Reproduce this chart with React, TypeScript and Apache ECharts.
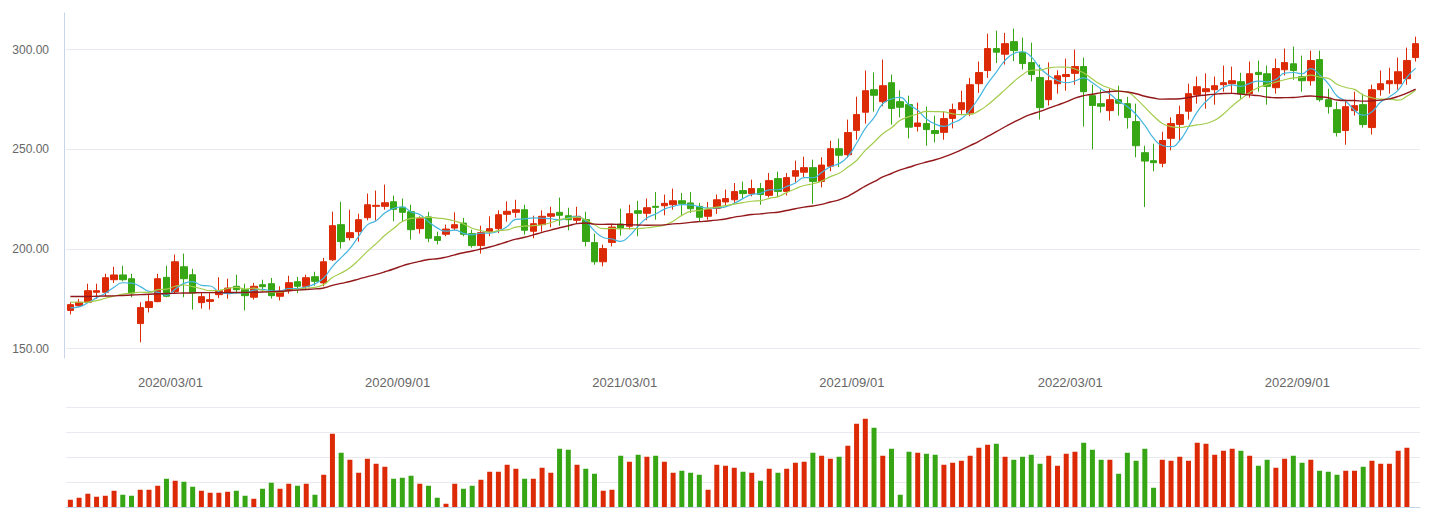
import React, { useEffect, useRef } from "react";
import * as echarts from "echarts";

// ---- data (weekly candles) ----
const FIRST_WEEK = "2019-12-13";
const CLOSED_WEEKS = ["2020-01-31", "2022-02-04", "2022-10-07"];
const tickLabels = ["2020/03/01", "2020/09/01", "2021/03/01", "2021/09/01", "2022/03/01", "2022/09/01"];

const opens = [169.2,171.6,173.3,178.3,178.3,184.6,187.0,185.1,162.6,170.7,173.6,185.8,178.6,191.1,187.1,173.1,173.7,177.1,177.9,181.3,179.6,175.8,182.1,182.6,176.3,179.1,183.6,181.3,186.1,183.0,194.6,212.2,205.7,208.7,215.7,221.4,221.4,223.7,220.9,218.7,210.2,216.1,206.2,207.4,210.5,213.0,207.7,201.7,208.7,210.2,217.4,218.4,219.7,208.9,212.2,216.4,218.4,216.7,214.4,214.7,203.2,193.6,203.3,212.5,211.4,219.2,217.9,221.4,221.7,222.2,224.2,223.1,221.4,216.4,220.4,223.6,224.7,229.3,227.8,230.3,226.9,235.3,228.9,236.5,238.5,240.8,233.9,241.5,250.3,247.3,259.5,268.6,279.9,273.9,283.4,273.9,272.4,261.5,262.9,259.4,258.5,265.5,269.9,268.2,282.9,289.5,300.5,297.7,304.0,298.7,293.5,286.0,274.9,282.9,286.5,288.1,291.5,276.9,272.9,269.4,274.9,272.9,263.9,248.3,244.3,243.0,255.5,262.5,269.1,277.4,278.9,279.9,282.4,282.9,283.9,277.9,288.6,287.9,280.9,289.9,292.9,286.4,284.4,295.0,274.9,269.9,259.4,269.4,272.4,260.9,279.9,282.9,282.9,285.4,296.0];
const closes = [172.1,173.3,179.1,179.1,185.6,187.0,184.6,177.9,170.6,173.6,185.1,176.3,193.6,185.1,177.9,176.1,174.6,179.1,180.4,179.6,176.6,181.3,181.1,176.6,178.8,183.1,181.3,185.6,183.8,193.6,211.7,203.7,208.2,214.7,222.2,221.9,223.2,219.9,218.4,209.7,215.2,205.4,204.3,210.0,212.2,207.4,201.7,208.2,210.2,217.2,218.9,219.7,209.4,212.7,216.4,217.7,216.9,214.7,216.4,203.8,193.6,200.2,211.0,210.5,217.7,217.9,220.7,220.9,222.9,224.2,222.7,220.2,215.9,219.7,224.7,225.3,228.8,227.8,230.3,227.3,234.3,228.9,235.8,239.3,240.8,233.9,242.1,250.3,247.0,258.4,267.4,279.4,277.1,281.9,270.5,271.1,261.1,263.2,259.9,257.9,265.4,269.9,273.4,282.4,288.5,300.5,298.7,303.0,299.5,293.0,287.5,270.9,284.4,286.9,287.5,291.5,278.9,272.0,271.6,274.9,273.1,265.9,251.8,244.1,243.3,254.4,262.9,267.4,277.9,281.4,280.4,281.9,283.4,284.4,277.9,287.9,287.5,281.6,290.5,293.5,289.5,284.4,294.5,274.9,271.4,258.4,271.4,271.9,262.4,279.9,282.9,284.4,288.9,294.5,303.0];
const lows = [167.2,170.9,172.9,174.9,176.3,183.0,183.8,175.8,153.2,168.2,173.3,175.8,177.9,175.8,169.6,170.1,169.6,175.4,175.1,177.6,169.2,174.6,178.8,175.1,174.2,177.6,177.9,180.0,181.6,181.3,194.0,200.2,204.3,203.7,214.4,214.2,219.7,213.9,213.9,204.7,207.7,203.4,202.3,206.4,209.4,206.4,200.7,197.7,206.4,208.0,213.7,215.7,207.2,205.4,208.7,210.9,211.7,209.4,213.0,201.3,192.1,191.3,201.3,206.7,209.7,206.4,214.4,214.7,216.9,219.7,216.9,218.1,213.9,214.7,217.6,221.4,222.7,225.3,226.4,222.2,225.9,225.9,226.9,233.4,236.1,222.7,230.9,239.0,241.1,245.7,254.8,262.9,268.9,271.6,262.4,266.0,255.5,258.9,251.8,253.5,254.8,260.5,267.1,266.6,278.3,285.8,293.3,292.5,294.2,290.0,284.1,264.9,271.9,277.9,279.4,282.4,261.4,250.0,268.4,264.4,266.9,260.4,246.0,221.1,239.0,241.0,249.5,254.4,264.9,272.9,270.4,272.4,278.9,277.9,275.4,275.9,278.9,272.4,277.9,287.0,284.9,278.9,281.9,273.9,267.9,256.4,252.3,266.9,260.9,257.4,276.9,277.9,279.9,282.4,294.0];
const highs = [173.3,174.9,182.6,182.6,187.6,191.1,191.6,187.6,173.3,177.4,187.6,191.6,197.2,197.7,190.1,177.9,177.9,185.8,185.1,187.1,182.6,183.0,184.6,185.5,181.3,186.6,186.0,187.1,188.6,195.5,218.7,223.7,219.7,217.7,227.8,229.3,232.3,226.8,225.3,222.2,216.4,218.7,208.7,212.2,218.4,215.6,209.7,211.7,216.4,219.4,223.9,224.7,222.2,216.7,219.4,221.2,225.8,220.7,221.2,218.7,207.7,202.2,212.7,220.2,222.2,224.2,225.3,228.6,227.3,230.3,228.1,228.6,223.1,223.6,227.3,229.8,233.1,233.8,234.8,233.1,238.1,238.8,238.1,244.3,246.3,244.8,246.0,254.3,255.4,264.9,276.4,289.5,288.6,295.0,287.5,279.6,276.9,273.4,271.4,266.9,269.0,272.9,279.4,285.8,294.0,308.0,309.5,308.4,310.5,306.0,303.5,292.5,293.6,289.6,295.5,300.0,296.0,282.4,279.9,280.4,281.9,276.3,272.9,251.8,252.8,258.8,266.0,271.9,282.9,286.5,288.1,286.5,292.0,291.5,288.4,294.0,294.5,292.0,295.5,300.5,301.5,297.0,299.5,299.5,280.4,273.9,274.9,278.9,277.9,282.4,289.5,290.9,296.0,301.0,306.5];

const ma5 = [170.5,171.0,173.0,175.5,177.84,180.82,183.08,182.84,181.14,178.74,178.36,176.70,179.84,182.74,183.60,181.80,181.46,178.56,177.62,177.96,178.06,179.40,179.80,179.04,178.88,180.18,180.18,181.08,182.52,185.48,191.20,195.68,200.20,206.38,212.10,214.14,218.04,220.38,221.12,218.62,217.28,213.72,210.60,208.92,209.42,207.86,207.12,207.90,207.94,208.94,211.24,214.84,215.08,215.58,215.42,215.18,214.62,215.68,216.42,213.90,209.08,205.74,205.00,203.82,206.60,211.46,215.56,217.54,220.02,221.32,222.28,222.18,221.18,220.54,220.64,221.16,222.88,225.26,227.38,227.90,229.70,229.72,231.32,233.12,235.82,235.74,238.38,241.28,242.82,246.34,253.04,260.50,265.86,272.84,275.26,276.00,272.34,269.56,265.16,262.64,261.50,263.26,265.30,269.80,275.92,282.94,288.70,294.62,298.04,298.94,296.34,290.78,287.06,284.54,283.44,284.24,285.84,283.36,280.30,277.78,274.10,271.50,267.46,261.96,255.64,251.90,251.30,254.42,261.18,268.80,274.00,277.80,281.00,282.30,281.60,283.10,284.22,283.86,285.08,288.20,288.52,287.90,290.48,287.36,282.94,276.72,274.12,269.60,267.10,268.80,273.70,276.30,279.70,286.12,290.74];
const ma10 = [173.4,173.3,173.4,174.1,175.3,176.4,177.4,177.9,178.3,178.29,179.59,179.89,181.34,181.94,181.17,180.08,179.08,179.20,180.18,180.78,179.93,180.43,179.18,178.33,178.42,179.12,179.79,180.44,180.78,182.18,185.69,187.93,190.64,194.45,198.79,202.67,206.86,210.29,213.75,215.36,215.71,215.88,215.49,215.02,214.02,212.57,210.42,209.25,208.43,209.18,209.55,210.98,211.49,211.76,212.18,213.21,214.73,215.38,216.00,214.66,212.13,210.18,210.34,210.12,210.25,210.27,210.65,211.27,211.92,213.96,216.87,218.87,219.36,220.28,220.98,221.72,222.53,223.22,223.96,224.27,225.43,226.30,228.29,230.25,231.86,232.72,234.05,236.30,237.97,241.08,244.39,249.44,253.57,257.83,260.80,264.52,266.42,267.71,269.00,268.95,268.75,267.80,267.43,267.48,269.28,272.22,275.98,279.96,283.92,287.43,289.64,289.74,290.84,291.29,291.19,290.29,288.31,285.21,282.42,280.61,279.17,278.67,275.41,271.13,266.71,263.00,261.40,260.94,261.57,262.22,262.95,264.55,267.71,271.74,275.20,278.55,281.01,282.43,283.69,284.90,285.81,286.06,287.17,286.22,285.57,282.62,281.01,280.04,277.23,275.87,275.21,275.21,274.65,276.61,279.77];
const ma30 = [176.2,176.2,176.2,176.3,176.4,176.5,176.7,176.9,177.1,177.3,177.5,177.7,177.8,177.9,178.0,178.1,178.1,178.1,178.1,178.2,178.2,178.3,178.4,178.6,178.8,179.1,179.4,179.7,180.0,180.42,181.74,182.75,183.72,184.91,186.13,187.29,188.58,189.98,191.57,192.77,193.78,194.75,195.10,195.93,197.08,198.12,199.02,199.99,200.99,202.24,203.65,204.93,205.87,207.08,208.33,209.48,210.67,211.64,212.73,213.07,212.46,212.35,212.44,212.30,212.15,212.02,211.93,211.97,212.12,212.60,212.85,213.34,213.73,214.05,214.47,215.07,215.97,216.62,217.29,217.63,218.14,218.45,219.33,220.22,221.03,221.57,222.41,223.60,224.62,226.44,228.90,231.54,233.74,236.12,237.88,239.65,241.00,242.41,243.64,244.77,246.19,247.85,249.76,251.85,253.98,256.49,258.82,261.32,263.63,265.82,267.59,268.99,270.61,272.20,273.76,275.68,276.90,277.63,278.45,279.00,279.19,278.74,277.89,276.63,275.73,275.17,275.23,275.37,275.97,276.75,277.25,277.65,277.99,278.05,277.70,277.28,276.91,276.19,275.89,275.91,275.98,276.43,276.76,276.36,275.83,274.72,274.47,274.47,274.16,274.33,274.66,275.27,276.51,278.19,280.18];

const volumes: (number | null)[] = [29,37,53,41,45,65,49,45,69,69,85,113,105,101,81,65,57,57,61,65,45,33,73,97,73,93,85,93,49,129,293,217,189,137,193,173,161,113,117,125,93,85,37,13,93,73,85,109,141,141,169,153,113,113,157,137,233,229,169,153,133,65,69,205,181,209,201,205,181,137,145,137,129,69,169,165,157,141,137,105,153,137,153,177,181,217,205,193,201,245,333,353,317,205,233,49,221,217,213,209,169,177,185,205,237,249,253,201,189,201,209,173,205,165,213,221,257,229,189,189,133,217,185,233,77,189,185,201,185,257,253,209,225,233,225,205,165,189,157,193,205,177,189,145,141,129,145,145,161,185,173,173,225,237,null];

// ---- styling ----
const RED = "#dc2a07";
const GREEN = "#36a614";
const MA_COLORS = ["#43b5df", "#a3cc4b", "#93181b"];
const AXIS_COLOR = "#c8d4e8";
const SPLIT_COLOR = "#e7ebf1";
const LABEL_COLOR = "#666";
const FONT = "'Liberation Sans', Arial, sans-serif";

function buildWeeks(count: number): string[] {
  const out: string[] = [];
  let t = Date.parse(FIRST_WEEK);
  while (out.length < count) {
    const iso = new Date(t).toISOString().slice(0, 10);
    if (!CLOSED_WEEKS.includes(iso)) out.push(iso.replace(/-/g, "/"));
    t += 7 * 86400000;
  }
  return out;
}

const categories = buildWeeks(closes.length);

const tickAt = new Map<number, string>();
tickLabels.forEach((lab) => {
  const idx = categories.findIndex((c) => c >= lab);
  if (idx >= 0) tickAt.set(idx, lab);
});

export default function App() {
  const ref = useRef<HTMLDivElement>(null);

  useEffect(() => {
    if (!ref.current) return;
    const chart = echarts.init(ref.current, undefined, { renderer: "svg" });

    const ohlc = opens.map((o, i) => [o, closes[i], lows[i], highs[i]]);
    const vol = volumes.map((v, i) => ({
      value: v,
      itemStyle: { color: closes[i] >= opens[i] ? RED : GREEN },
    }));

    const maSeries = [
      { name: "MA5", data: ma5 },
      { name: "MA10", data: ma10 },
      { name: "MA30", data: ma30 },
    ].map((m, k) => ({
      name: m.name,
      type: "line",
      xAxisIndex: 0,
      yAxisIndex: 0,
      data: m.data,
      smooth: true,
      symbol: "none",
      showSymbol: false,
      lineStyle: { width: k === 2 ? 1.4 : 1.2, color: MA_COLORS[k] },
      itemStyle: { color: MA_COLORS[k] },
      z: 3,
    }));

    chart.setOption({
      animation: false,
      textStyle: { fontFamily: FONT },
      grid: [
        { left: 66, right: 10, top: 13, height: 345 },
        { left: 66, right: 10, top: 407, height: 100 },
      ],
      xAxis: [
        {
          type: "category",
          gridIndex: 0,
          data: categories,
          boundaryGap: true,
          axisLine: { show: false },
          axisTick: { show: false },
          splitLine: { show: false },
          axisLabel: {
            interval: (idx: number) => tickAt.has(idx),
            formatter: (_v: string, idx: number) => tickAt.get(idx) ?? "",
            color: LABEL_COLOR,
            fontSize: 13,
            fontFamily: FONT,
            margin: 18,
            padding: [0, 0, 0, 8],
          },
        },
        {
          type: "category",
          gridIndex: 1,
          data: categories,
          boundaryGap: true,
          axisLine: { show: true, lineStyle: { color: AXIS_COLOR } },
          axisTick: { show: false },
          axisLabel: { show: false },
          splitLine: { show: false },
        },
      ],
      yAxis: [
        {
          type: "value",
          gridIndex: 0,
          scale: true,
          offset: 2,
          min: (v: { min: number; max: number }) => v.min - (v.max - v.min) * 0.05,
          max: (v: { min: number; max: number }) => v.max + (v.max - v.min) * 0.05,
          splitNumber: 3,
          axisLine: { show: true, lineStyle: { color: AXIS_COLOR } },
          axisTick: { show: false },
          axisLabel: {
            formatter: (v: number) => v.toFixed(2),
            showMinLabel: false,
            showMaxLabel: false,
            color: LABEL_COLOR,
            fontSize: 12,
            fontFamily: FONT,
            margin: 15,
          },
          splitLine: {
            show: true,
            lineStyle: { color: SPLIT_COLOR },
            showMinLine: false,
            showMaxLine: false,
          },
        },
        {
          type: "value",
          gridIndex: 1,
          min: 0,
          max: 400,
          interval: 100,
          axisLine: { show: false },
          axisTick: { show: false },
          axisLabel: { show: false },
          splitLine: { show: true, lineStyle: { color: SPLIT_COLOR } },
        },
      ],
      series: [
        {
          name: "K",
          type: "candlestick",
          xAxisIndex: 0,
          yAxisIndex: 0,
          data: ohlc,
          barWidth: 7,
          itemStyle: {
            color: RED,
            color0: GREEN,
            borderColor: RED,
            borderColor0: GREEN,
            borderWidth: 1,
          },
        },
        ...maSeries,
        {
          name: "Volume",
          type: "bar",
          xAxisIndex: 1,
          yAxisIndex: 1,
          data: vol,
          barWidth: 5,
        },
      ],
    });

    return () => chart.dispose();
  }, []);

  return (
    <div
      ref={ref}
      style={{ position: "absolute", left: 0, top: 0, width: 1430, height: 508 }}
    />
  );
}
